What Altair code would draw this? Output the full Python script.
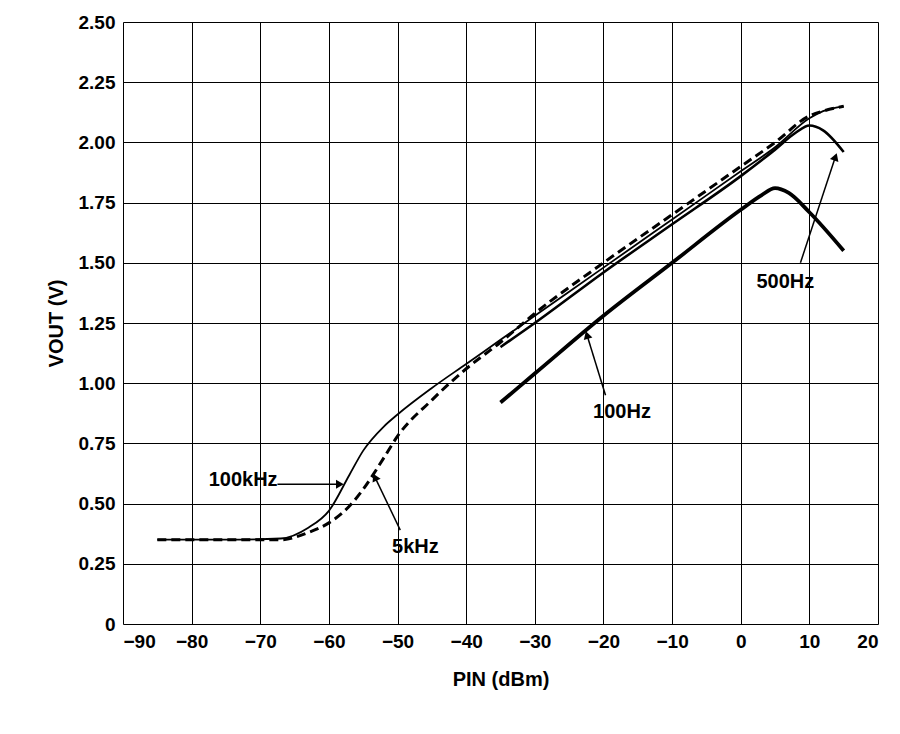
import altair as alt
import pandas as pd

# curve data
khz100_x = [-85, -75, -67, -63, -60, -57, -55, -52, -50, -45, -40, -35, -30, -20, -10, 0, 5, 10, 12, 15]
khz100_y = [0.35, 0.35, 0.355, 0.40, 0.47, 0.62, 0.72, 0.82, 0.87, 0.98, 1.08, 1.18, 1.28, 1.48, 1.68, 1.88, 1.98, 2.10, 2.13, 2.15]
khz5_x = [-85, -75, -67, -63, -60, -57, -55, -52, -50, -45, -40, -35, -30, -20, -10, 0, 5, 10, 12, 15]
khz5_y = [0.35, 0.35, 0.35, 0.38, 0.42, 0.49, 0.56, 0.69, 0.78, 0.93, 1.06, 1.17, 1.29, 1.50, 1.70, 1.90, 2.00, 2.11, 2.13, 2.15]
hz500_x = [-35, -30, -20, -10, 0, 5, 8, 10, 12, 15]
hz500_y = [1.15, 1.25, 1.46, 1.66, 1.86, 1.97, 2.04, 2.07, 2.05, 1.96]
hz100_x = [-35, -30, -20, -10, 0, 3, 5, 7, 10, 15]
hz100_y = [0.92, 1.04, 1.28, 1.50, 1.72, 1.78, 1.81, 1.79, 1.71, 1.55]

labels = ["100kHz", "5kHz", "100Hz", "500Hz"]
label_x = [-72.5, -47.4, -17.3, 6.5]
label_y = [0.60, 0.32, 0.88, 1.42]
arrow_x0 = [-67.5, -49.6, -19.7, 8.7]
arrow_y0 = [0.58, 0.39, 0.95, 1.50]
arrow_x1 = [-58.4, -53.3, -22.4, 13.8]
arrow_y1 = [0.58, 0.61, 1.20, 1.94]
arrow_angle = [90, 334, 343, 19]

rows = []
for name, xs, ys in [("100kHz", khz100_x, khz100_y), ("5kHz", khz5_x, khz5_y),
                     ("500Hz", hz500_x, hz500_y), ("100Hz", hz100_x, hz100_y)]:
    for i, (a, b) in enumerate(zip(xs, ys)):
        rows.append({"s": name, "x": a, "y": b, "o": i})
df = pd.DataFrame(rows)

ann = pd.DataFrame({"label": labels, "lx": label_x, "ly": label_y,
                    "x0": arrow_x0, "y0": arrow_y0, "x1": arrow_x1, "y1": arrow_y1,
                    "ang": arrow_angle})

font = "Liberation Sans"
xs = alt.Scale(domain=[-90, 20], nice=False)
ys = alt.Scale(domain=[0, 2.5], nice=False)

common = dict(grid=True, gridColor="black", gridWidth=1, domain=False, ticks=False,
              labelPadding=8, labelFontSize=19, labelFontWeight="bold", labelFont=font,
              labelColor="black", titleFont=font, titleFontSize=20, titleFontWeight="bold",
              titleColor="black")
xax = alt.Axis(values=list(range(-90, 21, 10)), title="PIN (dBm)", titlePadding=18, **common)
yax = alt.Axis(values=[i * 0.25 for i in range(11)], title="VOUT (V)", titlePadding=12,
               labelExpr="datum.value == 0 ? '0' : format(datum.value, '.2f')", **common)

base = alt.Chart(df)


def curve(name, width, dash=None):
    kw = {"strokeWidth": width, "color": "black", "interpolate": "monotone"}
    if dash:
        kw["strokeDash"] = dash
    return base.transform_filter(alt.datum.s == name).mark_line(**kw).encode(
        x=alt.X("x:Q", scale=xs, axis=xax), y=alt.Y("y:Q", scale=ys, axis=yax), order="o:Q")


lines = (curve("100kHz", 1.8) + curve("5kHz", 3, [9, 5]) + curve("500Hz", 2.6)
         + curve("100Hz", 3.8))

a = alt.Chart(ann)
arrows = a.mark_rule(color="black", strokeWidth=1.5).encode(
    x=alt.X("x0:Q", scale=xs), y=alt.Y("y0:Q", scale=ys), x2="x1:Q", y2="y1:Q")
heads = a.mark_point(shape="triangle-up", filled=True, color="black", size=80, opacity=1).encode(
    x=alt.X("x1:Q", scale=xs), y=alt.Y("y1:Q", scale=ys), angle=alt.Angle("ang:Q", scale=None))
texts = a.mark_text(font=font, fontSize=20, fontWeight="bold", color="black").encode(
    x=alt.X("lx:Q", scale=xs), y=alt.Y("ly:Q", scale=ys), text="label:N")

chart = (lines + arrows + heads + texts).properties(
    width=755, height=602,
    autosize=alt.AutoSizeParams(type="none"),
    padding={"left": 115, "top": 14, "right": 14, "bottom": 100},
).configure_view(stroke="black", strokeWidth=1.5).configure(background="white")

chart.save("out.html", embed_options={"renderer": "svg", "actions": False})
